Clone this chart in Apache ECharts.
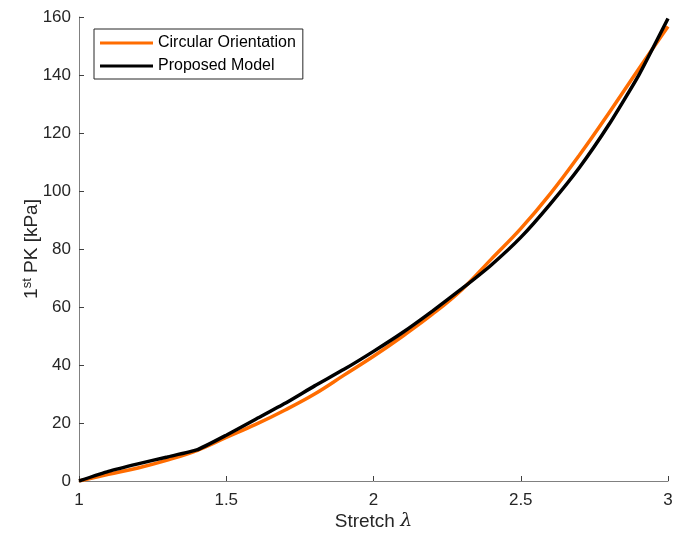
<!DOCTYPE html>
<html>
<head>
<meta charset="utf-8">
<script src="https://cdn.jsdelivr.net/npm/echarts@6/dist/echarts.min.js"></script>
<style>html,body{margin:0;padding:0;background:#fff}#c{width:676px;height:539px}</style>
</head>
<body>
<div id="c"></div>
<script>
const stretch = [1.0,1.1,1.2,1.3,1.4,1.5,1.6,1.7,1.8,1.9,2.0,2.1,2.2,2.3,2.4,2.5,2.6,2.7,2.8,2.9,3.0];
const circularPK = [0,2.3,4.5,7.2,10.5,15,19.5,24.5,30,36.5,43,50,57.5,66,76.5,87,99,112.5,127,142,156.7];
const proposedPK = [0,3.3,5.9,8.3,10.7,15.8,21.3,26.8,32.8,38.5,44.7,51.3,58.6,66.3,74.5,84,95.5,108.2,123,139.8,159.5];
const xTicks = [1,1.5,2,2.5,3];
const seriesNames = ['Circular Orientation','Proposed Model'];

const chart = echarts.init(document.getElementById('c'), null, {renderer:'canvas'});
const font = 'Liberation Sans, Arial, Helvetica, sans-serif';
const pair = (ys) => stretch.map((x,i)=>[x, ys[i]]);
chart.setOption({
  animation:false,
  backgroundColor:'#fff',
  grid:{left:79, right:8, top:17, bottom:58, containLabel:false},
  legend:{
    orient:'vertical', left:94, top:29,
    data:seriesNames,
    icon:'rect', itemWidth:53, itemHeight:3, itemGap:7,
    padding:[6,7,5,6],
    borderColor:'#262626', borderWidth:1, backgroundColor:'#fff',
    textStyle:{fontFamily:font, fontSize:16, color:'#000'}
  },
  xAxis:{
    type:'value', min:1, max:3, interval:0.5,
    name:'{n|Stretch }{l|λ}', nameLocation:'middle', nameGap:31, nameMoveOverlap:false,
    nameTextStyle:{rich:{n:{fontFamily:font,fontSize:19,color:'#262626'},l:{fontFamily:'DejaVu Serif, serif',fontStyle:'italic',fontSize:19,color:'#262626'}}},
    axisLine:{lineStyle:{color:'#808080',width:1}},
    axisTick:{inside:true,length:5,lineStyle:{color:'#404040'}},
    axisLabel:{fontFamily:font,fontSize:17,color:'#262626',margin:11,formatter:(v)=>xTicks.includes(v)?String(v):''},
    splitLine:{show:false}
  },
  yAxis:{
    type:'value', min:0, max:160, interval:20,
    name:'{n|1}{s|st}{n| PK [kPa]}', nameLocation:'middle', nameGap:37, nameRotate:90, nameMoveOverlap:false,
    nameTextStyle:{rich:{n:{fontFamily:font,fontSize:19,color:'#262626'},s:{fontFamily:font,fontSize:13,color:'#262626',verticalAlign:'top',padding:[0,0,8,0]}}},
    axisLine:{show:true,lineStyle:{color:'#808080',width:1}},
    axisTick:{show:true,inside:true,length:5,lineStyle:{color:'#404040'}},
    axisLabel:{fontFamily:font,fontSize:17,color:'#262626',margin:8},
    splitLine:{show:false}
  },
  series:[
    {name:seriesNames[0], type:'line', data:pair(circularPK), smooth:0.4, showSymbol:false, symbol:'none',
     lineStyle:{color:'#FF6C00',width:3.5}, itemStyle:{color:'#FF6C00'}, z:2},
    {name:seriesNames[1], type:'line', data:pair(proposedPK), smooth:0.15, showSymbol:false, symbol:'none',
     lineStyle:{color:'#000',width:3.5}, itemStyle:{color:'#000'}, z:3}
  ]
});
</script>
</body>
</html>
